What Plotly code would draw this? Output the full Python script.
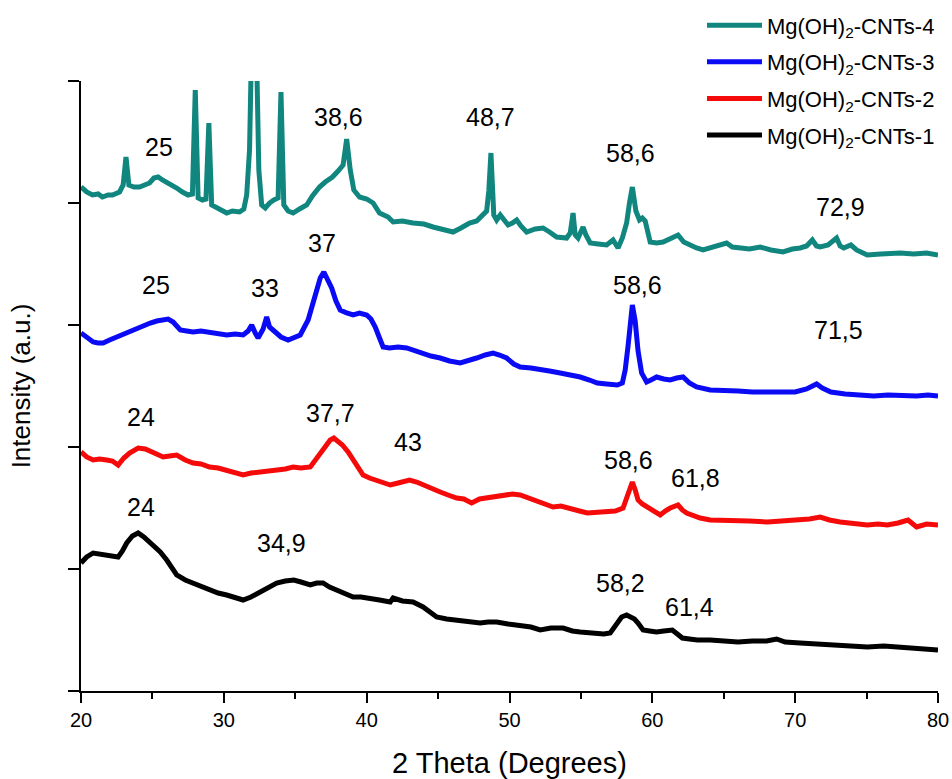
import plotly.graph_objects as go

# ---- XRD patterns (2 theta in degrees, intensity in arbitrary units, stacked) ----
two_theta_cnt4 = [20.0, 20.4, 20.8, 21.2, 21.5, 21.9, 22.2, 22.7, 22.95, 23.15, 23.35, 23.7, 24.1, 24.5, 24.8,
                  25.1, 25.4, 25.7, 26.0, 26.4, 26.7, 27.1, 27.5, 27.8, 28.0, 28.2, 28.5, 28.75, 28.95, 29.15,
                  29.4, 29.8, 30.2, 30.6, 31.1, 31.4, 31.6, 31.8, 31.95, 32.15, 32.3, 32.45, 32.65, 32.9, 33.2,
                  33.5, 33.8, 34.0, 34.2, 34.5, 34.85, 35.3, 35.8, 36.2, 36.7, 37.1, 37.6, 38.0, 38.35, 38.6,
                  38.85, 39.1, 39.5, 40.0, 40.45, 40.9, 41.5, 41.85, 42.5, 43.25, 44.0, 44.65, 45.3, 46.05, 46.6,
                  47.2, 47.7, 48.15, 48.4, 48.55, 48.7, 48.9, 49.1, 49.35, 49.6, 49.9, 50.2, 50.5, 50.8, 51.2,
                  51.8, 52.35, 52.8, 53.3, 54.0, 54.25, 54.45, 54.6, 54.8, 55.0, 55.15, 55.35, 55.65, 56.2, 56.8,
                  57.25, 57.6, 57.9, 58.2, 58.4, 58.6, 58.85, 59.1, 59.3, 59.5, 59.85, 60.3, 60.75, 61.3, 61.8,
                  62.2, 62.6, 63.1, 63.55, 64.3, 65.2, 65.6, 66.1, 66.8, 67.55, 68.3, 69.15, 69.8, 70.35, 70.8,
                  71.2, 71.5, 71.75, 72.3, 72.9, 73.15, 73.4, 73.9, 74.3, 75.05, 76.0, 77.35, 78.3, 79.2, 80.0]
intensity_cnt4 = [5040, 4990, 4960, 4970, 4940, 4960, 4960, 4990, 5060, 5340, 5060, 5040, 5040, 5060, 5080,
                  5130, 5140, 5110, 5090, 5060, 5030, 4990, 4960, 4970, 6010, 4930, 4910, 4920, 5680, 4860,
                  4840, 4810, 4780, 4800, 4790, 4820, 4960, 5410, 6510, 6610, 6310, 5210, 4860, 4830, 4880,
                  4910, 4930, 5990, 4860, 4800, 4780, 4820, 4860, 4950, 5040, 5090, 5140, 5200, 5260, 5520,
                  5210, 5010, 4940, 4920, 4880, 4780, 4740, 4690, 4700, 4680, 4670, 4640, 4620, 4590, 4630,
                  4680, 4700, 4760, 4800, 5000, 5380, 4760, 4710, 4760, 4720, 4660, 4680, 4710, 4650, 4590,
                  4620, 4630, 4590, 4540, 4530, 4580, 4780, 4560, 4530, 4600, 4640, 4560, 4480, 4470, 4460,
                  4510, 4430, 4530, 4680, 4880, 5040, 4800, 4710, 4730, 4700, 4490, 4480, 4490, 4520, 4560,
                  4490, 4460, 4430, 4410, 4440, 4480, 4440, 4430, 4420, 4440, 4410, 4390, 4420, 4430, 4450,
                  4510, 4450, 4440, 4460, 4530, 4450, 4430, 4460, 4410, 4360, 4370, 4380, 4370, 4380, 4360]

two_theta_cnt3 = [20.0, 20.4, 20.85, 21.2, 21.55, 22.0, 22.5, 23.1, 23.65, 24.2, 24.85, 25.3, 25.75, 26.1, 26.45,
                  26.95, 27.4, 27.85, 28.4, 29.0, 29.6, 30.2, 30.8, 31.35, 31.7, 31.95, 32.2, 32.4, 32.75, 33.0,
                  33.2, 33.45, 34.0, 34.5, 35.0, 35.35, 35.9, 36.2, 36.5, 36.75, 37.0, 37.25, 37.55, 37.85, 38.15,
                  38.6, 39.05, 39.5, 40.0, 40.3, 40.6, 40.9, 41.15, 41.6, 42.2, 42.8, 43.4, 43.95, 44.5, 45.15,
                  45.8, 46.55, 47.1, 47.7, 48.3, 48.85, 49.3, 49.8, 50.3, 50.75, 51.5, 52.15, 52.8, 53.55, 54.3,
                  54.95, 55.6, 56.15, 56.8, 57.55, 57.9, 58.1, 58.3, 58.45, 58.6, 58.8, 59.0, 59.25, 59.6, 59.9,
                  60.3, 60.8, 61.25, 61.7, 62.15, 62.6, 63.1, 64.05, 65.0, 66.0, 67.0, 68.0, 69.0, 70.0, 70.8,
                  71.5, 71.9, 72.5, 73.5, 74.5, 75.5, 76.5, 77.5, 78.5, 79.3, 80.0]
intensity_cnt3 = [3580, 3530, 3490, 3480, 3480, 3510, 3540, 3580, 3610, 3650, 3680, 3700, 3710, 3720, 3690,
                  3610, 3600, 3590, 3600, 3590, 3570, 3560, 3570, 3560, 3600, 3660, 3580, 3530, 3620, 3740,
                  3640, 3610, 3540, 3510, 3540, 3560, 3710, 3850, 4010, 4130, 4190, 4110, 4030, 3900, 3810,
                  3780, 3760, 3780, 3760, 3720, 3640, 3530, 3440, 3430, 3440, 3430, 3400, 3380, 3350, 3330,
                  3300, 3280, 3310, 3330, 3360, 3380, 3360, 3330, 3270, 3240, 3230, 3210, 3200, 3180, 3160,
                  3140, 3110, 3080, 3070, 3060, 3080, 3210, 3450, 3700, 3860, 3700, 3400, 3180, 3090, 3110,
                  3140, 3120, 3110, 3130, 3140, 3080, 3040, 3010, 3010, 3000, 2990, 2990, 2980, 2990, 3020,
                  3070, 3030, 2990, 2970, 2960, 2950, 2960, 2950, 2950, 2960, 2950]

two_theta_cnt2 = [20.0, 20.4, 20.85, 21.3, 21.8, 22.2, 22.6, 23.0, 23.4, 23.8, 24.0, 24.5, 24.95, 25.35, 25.75,
                  26.2, 26.7, 27.3, 27.85, 28.4, 29.0, 29.6, 30.2, 30.8, 31.35, 31.9, 32.55, 33.1, 33.7, 34.3,
                  34.85, 35.4, 36.05, 36.3, 36.6, 36.9, 37.2, 37.45, 37.7, 37.95, 38.3, 38.7, 39.05, 39.4, 39.75,
                  40.2, 40.7, 41.15, 41.65, 42.2, 43.0, 43.5, 43.95, 44.5, 45.15, 45.7, 46.3, 46.8, 47.35, 47.9,
                  48.45, 49.0, 49.55, 50.2, 50.75, 51.3, 51.9, 52.5, 53.05, 53.6, 54.25, 54.9, 55.45, 56.2, 56.85,
                  57.4, 57.95, 58.3, 58.45, 58.6, 58.8, 59.0, 59.3, 59.6, 60.1, 60.55, 60.9, 61.25, 61.8, 62.1,
                  62.4, 62.9, 63.35, 64.05, 64.8, 65.65, 66.8, 68.05, 69.2, 70.35, 71.0, 71.75, 72.4, 73.15, 74.1,
                  75.05, 75.8, 76.45, 77.2, 77.9, 78.5, 79.2, 80.0]
intensity_cnt2 = [2390, 2340, 2310, 2320, 2310, 2300, 2260, 2330, 2380, 2410, 2430, 2420, 2390, 2360, 2340,
                  2350, 2360, 2310, 2280, 2270, 2240, 2230, 2210, 2190, 2160, 2180, 2190, 2200, 2210, 2220,
                  2240, 2230, 2240, 2290, 2360, 2420, 2480, 2510, 2530, 2500, 2460, 2390, 2310, 2220, 2160,
                  2130, 2110, 2090, 2060, 2080, 2110, 2090, 2060, 2020, 1990, 1960, 1930, 1920, 1880, 1920,
                  1930, 1950, 1960, 1970, 1960, 1930, 1890, 1860, 1840, 1850, 1830, 1800, 1780, 1790, 1790,
                  1800, 1830, 1990, 2060, 2090, 2010, 1910, 1870, 1840, 1800, 1760, 1800, 1830, 1860, 1810,
                  1780, 1750, 1730, 1710, 1710, 1710, 1700, 1690, 1700, 1710, 1720, 1740, 1710, 1690, 1680,
                  1660, 1670, 1660, 1680, 1710, 1640, 1670, 1660]

two_theta_cnt1 = [20.0, 20.4, 20.85, 21.3, 21.8, 22.2, 22.6, 22.9, 23.2, 23.6, 24.0, 24.4, 24.85, 25.2, 25.55,
                  26.0, 26.35, 26.7, 27.3, 27.85, 28.4, 29.0, 29.6, 30.2, 30.8, 31.35, 31.9, 32.55, 33.1, 33.7,
                  34.3, 34.9, 35.4, 36.05, 36.5, 36.95, 37.4, 37.9, 38.5, 39.05, 39.6, 40.25, 40.9, 41.65, 41.85,
                  42.5, 43.25, 43.95, 44.4, 44.9, 45.6, 46.3, 47.1, 47.95, 48.5, 49.1, 49.9, 50.75, 51.5, 52.15,
                  52.9, 53.75, 54.4, 54.95, 55.6, 56.15, 56.6, 57.05, 57.35, 57.6, 57.85, 58.2, 58.5, 58.75, 59.0,
                  59.35, 59.8, 60.3, 60.8, 61.4, 61.75, 62.1, 62.6, 63.15, 64.05, 65.0, 66.0, 67.0, 68.0, 68.7,
                  69.3, 70.35, 71.5, 72.65, 73.8, 75.05, 76.2, 77.35, 78.6, 79.3, 80.0]
intensity_cnt1 = [1280, 1340, 1380, 1370, 1360, 1350, 1340, 1400, 1480, 1550, 1580, 1540, 1480, 1440, 1390,
                  1310, 1230, 1160, 1110, 1080, 1040, 1010, 980, 960, 940, 910, 940, 990, 1040, 1080,
                  1100, 1110, 1090, 1060, 1080, 1080, 1040, 1010, 970, 940, 940, 930, 910, 890, 930,
                  900, 890, 840, 790, 740, 720, 710, 700, 680, 690, 690, 670, 660, 640, 610,
                  630, 630, 600, 590, 580, 580, 570, 580, 640, 680, 740, 760, 740, 720, 680,
                  610, 600, 590, 600, 610, 570, 530, 520, 510, 510, 500, 490, 500, 500, 520,
                  490, 480, 470, 460, 460, 440, 450, 440, 430, 420, 410]

series_names = ["Mg(OH)<sub>2</sub>-CNTs-4", "Mg(OH)<sub>2</sub>-CNTs-3",
                "Mg(OH)<sub>2</sub>-CNTs-2", "Mg(OH)<sub>2</sub>-CNTs-1"]
series_x = [two_theta_cnt4, two_theta_cnt3, two_theta_cnt2, two_theta_cnt1]
series_y = [intensity_cnt4, intensity_cnt3, intensity_cnt2, intensity_cnt1]
series_colors = ["#10867f", "#0a0af5", "#f50a0a", "#000000"]

# Peak labels: (text, 2theta, intensity)
peak_labels = [
    ("25", 25.46, 5440), ("32", 31.9, 6360), ("34", 34.56, 6340), ("38,6", 38.0, 5740),
    ("48,7", 48.64, 5740), ("58,6", 58.5, 5380), ("72,9", 73.2, 4840),
    ("25", 25.25, 4060), ("33", 32.9, 4030), ("37", 36.87, 4480), ("58,6", 58.95, 4060),
    ("71,5", 73.0, 3610),
    ("24", 24.2, 2740), ("37,7", 37.5, 2780), ("43", 42.9, 2490), ("58,6", 58.3, 2310),
    ("61,8", 63.0, 2130),
    ("24", 24.2, 1840), ("34,9", 34.07, 1480), ("58,2", 57.8, 1080), ("61,4", 62.6, 840),
]

FONT = "Arial, 'Liberation Sans', sans-serif"

fig = go.Figure()
for name, xs, ys, color in zip(series_names, series_x, series_y, series_colors):
    fig.add_trace(go.Scatter(
        x=xs, y=ys, mode="lines", name=name, legendgroup=name,
        line=dict(color=color, width=5),
    ))

for text, xv, yv in peak_labels:
    fig.add_annotation(x=xv, y=yv, xref="x", yref="y", text=text, showarrow=False,
                       xanchor="center", yanchor="middle",
                       font=dict(family=FONT, size=25, color="black"))

y_ticks = [0, 1220, 2440, 3660, 4880, 6100]

fig.update_layout(
    width=952, height=779,
    margin=dict(l=81, r=14, t=81, b=88, autoexpand=False),
    paper_bgcolor="white", plot_bgcolor="white",
    font=dict(family=FONT, color="black"),
    legend=dict(
        x=0.7246, y=1.1255, xanchor="left", yanchor="top",
        bgcolor="rgba(0,0,0,0)", borderwidth=0,
        font=dict(family=FONT, size=22, color="black"),
        itemwidth=55, tracegroupgap=5, traceorder="grouped",
    ),
)

fig.update_xaxes(
    range=[20, 80], tick0=20, dtick=10,
    ticks="outside", ticklen=10, tickwidth=1.5, tickcolor="black",
    showline=True, linewidth=1.5, linecolor="black",
    showgrid=False, zeroline=False,
    tickfont=dict(family=FONT, size=20, color="black"),
    minor=dict(ticks="outside", ticklen=6, tickwidth=1.5, tickcolor="black", dtick=5, showgrid=False),
    title=dict(text="2 Theta (Degrees)", font=dict(family=FONT, size=29, color="black"), standoff=24),
)
fig.update_yaxes(
    range=[0, 6100], tickvals=y_ticks, showticklabels=False,
    ticks="outside", ticklen=11, tickwidth=1.5, tickcolor="black",
    showline=True, linewidth=1.5, linecolor="black",
    showgrid=False, zeroline=False,
    title=dict(text="Intensity (a.u.)", font=dict(family=FONT, size=26, color="black"), standoff=30),
)

fig.write_html("out.html")
